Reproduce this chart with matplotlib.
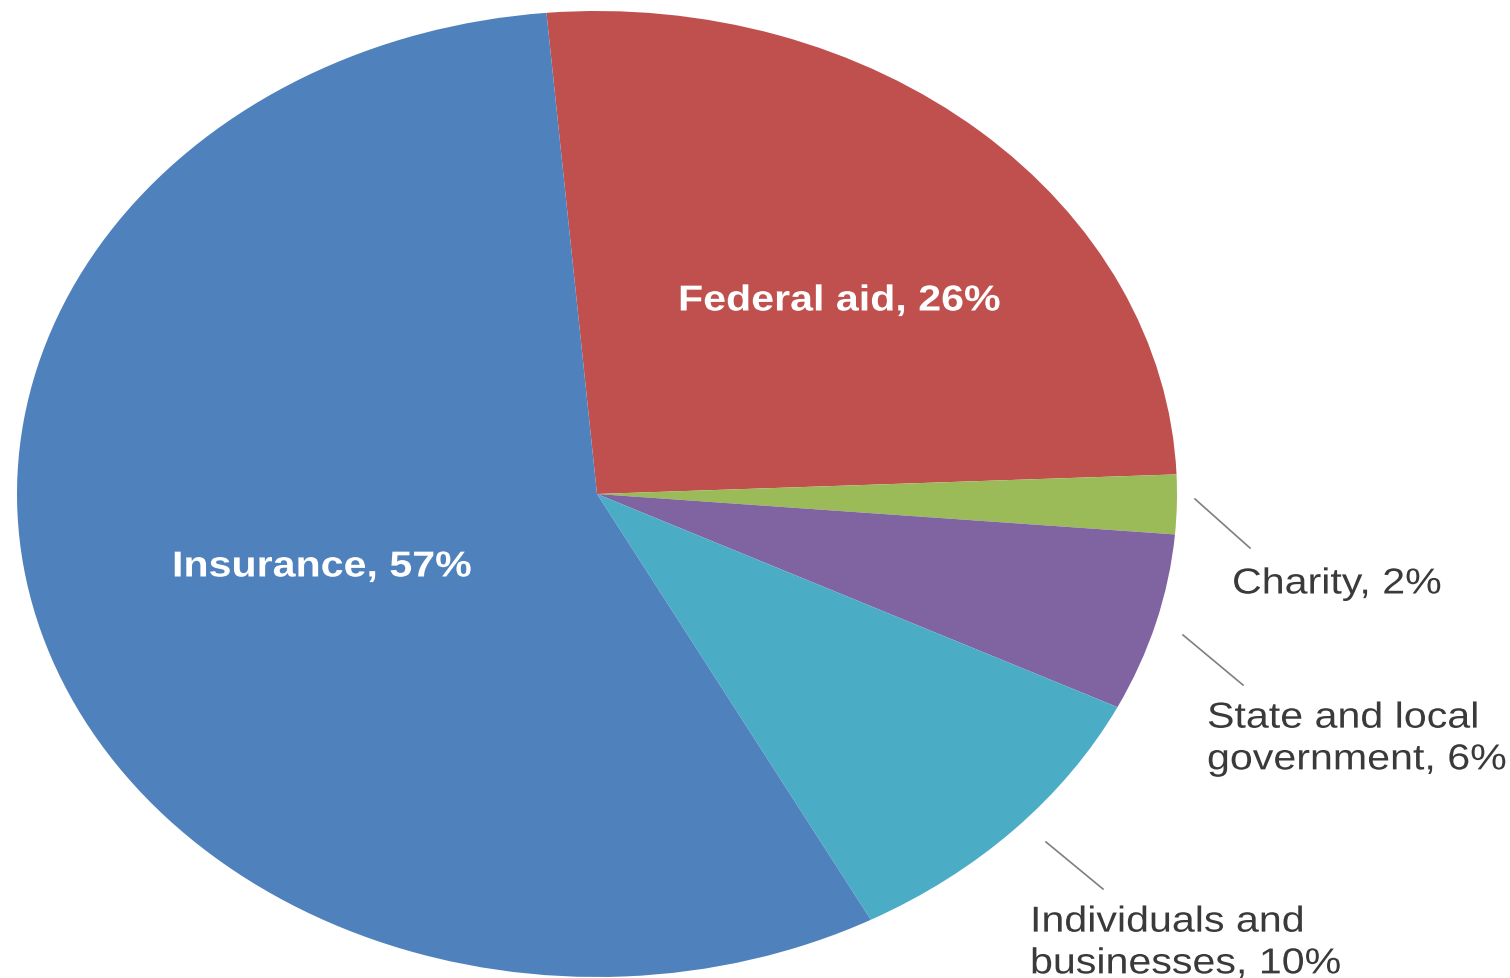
import matplotlib.pyplot as plt
from matplotlib import patheffects
from matplotlib.transforms import Affine2D

# shares of recovery funding, clockwise from the top
sources = ["Federal aid", "Charity", "State and local\ngovernment", "Individuals and\nbusinesses", "Insurance"]
shares = [26, 2, 6, 10, 57]
colors = ["#C0504D", "#9BBB59", "#8064A2", "#4BACC6", "#4F81BD"]

W, H = 1510, 979
CX, CY = 597, 495      # pie centre in pixels
RX, RY = 580, 483      # stretched radii in pixels


class Widen(patheffects.AbstractPathEffect):
    # stretch glyphs sideways from each line's left edge
    def __init__(self, sx):
        super().__init__()
        self.sx = sx

    def draw_path(self, renderer, gc, tpath, affine, rgbFace=None):
        renderer.draw_path(gc, tpath, Affine2D().scale(self.sx, 1) + affine, rgbFace)


def px(x, y):
    # pixel position -> pie data units
    return (x - CX) / RX, (CY - y) / RY


fig = plt.figure(figsize=(W / 100, H / 100), dpi=100)
ax = fig.add_axes([0, 0, 1, 1])
ax.pie(shares, colors=colors, startangle=95, counterclock=False,
       wedgeprops={"linewidth": 0})
ax.set_aspect("auto")
x0, y1 = px(0, 0)
x1, y0 = px(W, H)
ax.set_xlim(x0, x1)
ax.set_ylim(y0, y1)
ax.axis("off")

font = "Liberation Sans"
wide = [Widen(1.14)]

inner = [(0, (678, 302)), (4, (172, 568))]
for i, (x, y) in inner:
    ax.text(*px(x, y), f"{sources[i]}, {shares[i]}%", ha="left", va="center",
            color="white", fontsize=26, fontweight="bold", family=font,
            path_effects=wide)

outer = [
    (1, (1232, 585), ((1195, 500), (1250, 549))),
    (2, (1207, 740), ((1183, 636), (1243, 686))),
    (3, (1030, 944), ((1046, 843), (1103, 890))),
]
for i, (x, y), (a, b) in outer:
    ax.text(*px(x, y), f"{sources[i]}, {shares[i]}%", ha="left", va="center",
            color="#3a3a3a", fontsize=26, family=font, linespacing=1.25,
            path_effects=wide)
    (ax_, ay_), (bx_, by_) = px(*a), px(*b)
    ax.plot([ax_, bx_], [ay_, by_], color="#7f7f7f", linewidth=1.2)

fig.savefig("out.png", dpi=100)
